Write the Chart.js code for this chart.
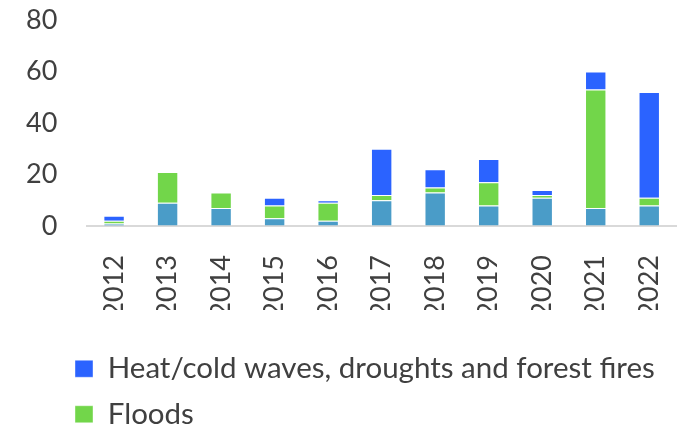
<!DOCTYPE html>
<html>
<head>
<meta charset="utf-8">
<script src="https://cdn.jsdelivr.net/npm/chart.js@4/dist/chart.umd.min.js"></script>
<style>
  html, body { margin: 0; padding: 0; background: #fff; }
  #wrap { width: 684px; height: 425px; }
</style>
</head>
<body>
<div id="wrap"><canvas id="events-chart" width="684" height="425"></canvas></div>
<script>
'use strict';

var years = ['2012', '2013', '2014', '2015', '2016', '2017', '2018', '2019', '2020', '2021', '2022'];
var otherEvents = [1, 9, 7, 3, 2, 10, 13, 8, 11, 7, 8];
var floods = [1, 12, 6, 5, 7, 2, 2, 9, 1, 46, 3];
var heatWaves = [2, 0, 0, 3, 1, 18, 7, 9, 2, 7, 41];
var yTicks = [0, 20, 40, 60, 80];

(function () {

  var textColor = '#404040';
  var fontFamily = 'Lato, "Open Sans", sans-serif';

  // nudge the legend right and down under the year labels
  var legendShift = {
    id: 'legendShift',
    afterLayout: function (chart) {
      chart.legend.left += 33;
      chart.legend.right += 33;
      chart.legend.top += 28;
      chart.legend.bottom += 28;
    }
  };

  var ctx = document.getElementById('events-chart').getContext('2d');

  return new Chart(ctx, {
    type: 'bar',

    data: {
      labels: years,
      datasets: [{
        label: 'Other',
        data: otherEvents,
        backgroundColor: '#4a9cc8',
        borderColor: 'rgba(255,255,255,0.4)',
        borderWidth: 1
      }, {
        label: 'Floods',
        data: floods,
        backgroundColor: '#72d64a',
        borderColor: 'rgba(255,255,255,0.4)',
        borderWidth: 1
      }, {
        label: 'Heat/cold waves, droughts and forest fires',
        data: heatWaves,
        backgroundColor: '#2b63ff',
        borderColor: 'rgba(255,255,255,0.4)',
        borderWidth: 1
      }]
    },

    options: {
      responsive: false,
      animation: false,
      layout: {
        padding: { left: 26, right: 8, top: 20, bottom: 15 }
      },
      datasets: {
        bar: { categoryPercentage: 1, barPercentage: 0.4 }
      },
      scales: {
        x: {
          stacked: true,
          grid: { display: false },
          border: { display: true, color: '#d9d9d9', width: 2 },
          afterFit: function (scale) {
            scale.height = 84;
            scale.paddingLeft = 0;
            scale.paddingRight = 0;
          },
          ticks: {
            color: textColor,
            font: { family: fontFamily, size: 27 },
            minRotation: 90,
            maxRotation: 90,
            padding: 21
          }
        },
        y: {
          stacked: true,
          min: 0,
          max: 80,
          // invisible tick marks keep the labels clear of the bars
          grid: {
            display: true,
            drawOnChartArea: false,
            tickLength: 30,
            tickColor: 'rgba(0,0,0,0)'
          },
          border: { display: false },
          afterBuildTicks: function (scale) {
            scale.ticks = yTicks.map(function (v) { return { value: v }; });
          },
          ticks: {
            color: textColor,
            font: { family: fontFamily, size: 27 },
            padding: 0
          }
        }
      },
      plugins: {
        tooltip: { enabled: false },
        legend: {
          position: 'bottom',
          align: 'start',
          reverse: true,
          maxHeight: 100,
          labels: {
            color: textColor,
            font: { family: fontFamily, size: 29.5 },
            boxWidth: 18,
            boxHeight: 17,
            padding: 16,
            filter: function (item) {
              return item.text !== 'Other';
            }
          }
        }
      }
    },

    plugins: [legendShift]
  });

})();
</script>
</body>
</html>
